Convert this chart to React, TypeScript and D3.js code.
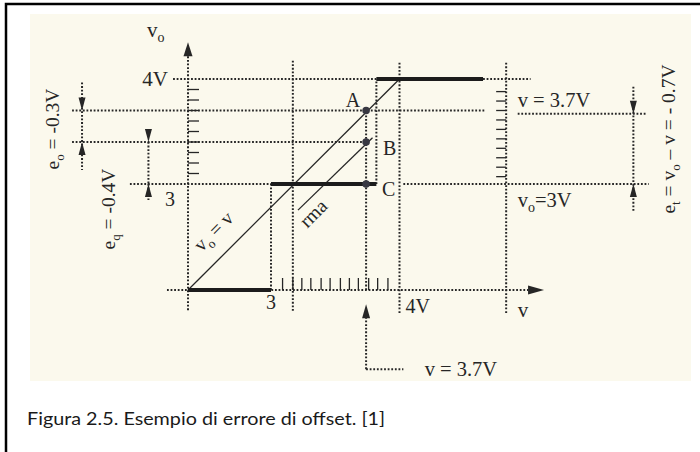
import React from 'react';
import * as d3 from 'd3';

// ---------- data (diagram values, in volts) ----------
const xBreaks = [0, 3, 4];            // v axis (broken scale)
const yBreaks = [0, 3, 4];            // v_o axis (broken scale)
const stepStarts = [0, 3, 3.82];
const stepEnds = [3, 3.82, 4.65];
const stepLevels = [0, 3, 4];
const idealV = [0, 4];
const idealVo = [0, 4];
const rmaV = [3.21, 3.79];
const rmaVo = [2.26, 3.44];
const probeV = 3.74;
const pointNames = ['A', 'B', 'C'];
const pointLevels = [3.7, 3.4, 3];
const yAxisTicks = [3.1, 3.2, 3.3, 3.4, 3.5, 3.6, 3.7, 3.8, 3.9];
const xAxisTicks = [3.09, 3.17, 3.24, 3.31, 3.39, 3.46, 3.54, 3.61, 3.68, 3.76, 3.83, 3.91];
const rightTicks = [3.07, 3.16, 3.25, 3.34, 3.43, 3.52, 3.61, 3.7, 3.79, 3.88];
const eoLevels = [3.7, 3.4];   // e_o = -0.3V
const eqLevels = [3.4, 3];     // e_q = -0.4V
const etLevels = [3.67, 3];    // e_t = -0.7V
const caption = 'Figura 2.5. Esempio di errore di offset. [1]';

// guide lines (dotted): horizontal at a level, from v1 to v2
const hAt = [4, 4, 3.7, 3.67, 3.4, 3, 3, 0, -2.24];
const hFrom = [-0.54, 4.65, -4.19, 4.92, -4.19, -2.1, 4.03, -0.76, 3.74];
const hTo = [3.82, 5.02, 4.67, 5.92, 3.74, 3, 5.94, 5.0, 4.03];
// vertical guides: at v, from level1 to level2
const vAt = [0, 3.17, 3, 3.74, 3.74, 3.82, 4, 4.83];
const vFrom = [-0.57, -0.59, 0, 0, -2.24, 3, -0.65, -0.65];
const vTo = [4.24, 4.18, 3, 3.7, -0.79, 4, 4.16, 4.16];

const INK = '#262626';
const SERIF = '"Liberation Serif", "DejaVu Serif", serif';

const x = d3.scaleLinear().domain(xBreaks).range([188, 271, 399.5]);
const y = d3.scaleLinear().domain(yBreaks).range([290, 184, 79]);

function Dot({ x1, y1, x2, y2 }: { x1: number; y1: number; x2: number; y2: number }) {
  return (
    <line x1={x1} y1={y1} x2={x2} y2={y2} stroke={INK} strokeWidth={2} strokeDasharray="1.8 1.8" />
  );
}

function Head({ tx, ty, dir, len = 13, hw = 3.5 }: { tx: number; ty: number; dir: 'up' | 'down' | 'right'; len?: number; hw?: number }) {
  let pts = '';
  if (dir === 'up') pts = `${tx},${ty} ${tx - hw},${ty + len} ${tx + hw},${ty + len}`;
  if (dir === 'down') pts = `${tx},${ty} ${tx - hw},${ty - len} ${tx + hw},${ty - len}`;
  if (dir === 'right') pts = `${tx},${ty} ${tx - len},${ty - hw} ${tx - len},${ty + hw}`;
  return <polygon points={pts} fill={INK} />;
}

function DimArrow({ v, levels, ext }: { v: number; levels: number[]; ext: number }) {
  const px = x(v);
  const top = y(levels[0]);
  const bot = y(levels[1]);
  return (
    <g>
      <Dot x1={px} y1={top - ext} x2={px} y2={bot + ext} />
      <Head tx={px} ty={top} dir="down" />
      <Head tx={px} ty={bot} dir="up" />
    </g>
  );
}

export default function App() {
  const line = d3.line<[number, number]>().x(d => x(d[0])).y(d => y(d[1]));
  const ideal: [number, number][] = idealV.map((v, i) => [v, idealVo[i]]);
  const rma: [number, number][] = rmaV.map((v, i) => [v, rmaVo[i]]);
  const txt = { fontFamily: SERIF, fill: INK } as const;

  return (
    <div style={{ position: 'absolute', left: 0, top: 0 }}>
      <svg width={700} height={452} style={{ display: 'block', background: '#fff' }}>
        <rect x={6} y={4} width={740} height={500} fill="#fff" stroke="#000" strokeWidth={2.5} />
        <rect x={30} y={14} width={661} height={367} fill="#fbf9ed" />

        {/* dotted guides */}
        {hAt.map((lv, i) => (
          <Dot key={'h' + i} x1={x(hFrom[i])} y1={y(lv)} x2={x(hTo[i])} y2={y(lv)} />
        ))}
        {vAt.map((v, i) => (
          <Dot key={'v' + i} x1={x(v)} y1={y(vFrom[i])} x2={x(v)} y2={y(vTo[i])} />
        ))}

        {/* axis arrows */}
        <Head tx={x(0)} ty={y(4.35)} dir="up" len={14} hw={4.5} />
        <Head tx={x(5.125)} ty={y(0)} dir="right" len={16} hw={4.5} />
        <Head tx={x(probeV)} ty={y(-0.4)} dir="up" len={14} hw={4} />

        {/* ticks */}
        {yAxisTicks.map((t, i) => (
          <line key={'yt' + i} x1={x(0)} x2={x(0) + 11} y1={y(t)} y2={y(t)} stroke={INK} strokeWidth={1.3} />
        ))}
        {rightTicks.map((t, i) => (
          <line key={'rt' + i} x1={x(4.83) - 10} x2={x(4.83)} y1={y(t)} y2={y(t)} stroke={INK} strokeWidth={1.3} />
        ))}
        {xAxisTicks.map((t, i) => (
          <line key={'xt' + i} x1={x(t)} x2={x(t)} y1={y(0) - 12} y2={y(0)} stroke={INK} strokeWidth={1.3} />
        ))}

        {/* diagonal lines */}
        <path d={line(ideal) || ''} stroke={INK} strokeWidth={1.3} fill="none" />
        <path d={line(rma) || ''} stroke={INK} strokeWidth={1.3} fill="none" />

        {/* quantizer staircase */}
        {stepLevels.map((lv, i) => (
          <line key={'s' + i} x1={x(stepStarts[i])} x2={x(stepEnds[i])} y1={y(lv)} y2={y(lv)} stroke="#1c1c1c" strokeWidth={3.8} />
        ))}

        {/* points A, B, C */}
        {pointLevels.map((lv, i) => (
          <circle key={'p' + i} cx={x(probeV)} cy={y(lv)} r={3.8} fill="#383842" />
        ))}
        <text {...txt} x={x(probeV) - 13} y={y(pointLevels[0]) - 4} fontSize={20} textAnchor="middle">{pointNames[0]}</text>
        <text {...txt} x={x(probeV) + 17} y={y(pointLevels[1]) + 13} fontSize={20}>{pointNames[1]}</text>
        <text {...txt} x={x(probeV) + 16} y={y(pointLevels[2]) + 12} fontSize={20}>{pointNames[2]}</text>

        {/* dimension arrows */}
        <DimArrow v={-3.83} levels={eoLevels} ext={28} />
        <DimArrow v={-1.43} levels={eqLevels} ext={0} />
        <Dot x1={x(-1.43)} y1={y(3)} x2={x(-1.43)} y2={y(3) + 16} />
        <DimArrow v={5.82} levels={etLevels} ext={27} />

        {/* axis labels */}
        <text {...txt} x={147} y={37} fontSize={21}>v<tspan fontSize={14} dy={5}>o</tspan></text>
        <text {...txt} x={x(0) - 20} y={y(4) + 7} fontSize={21} textAnchor="end">4V</text>
        <text {...txt} x={x(0) - 18} y={y(3) + 22} fontSize={20} textAnchor="middle">3</text>
        <text {...txt} x={x(3)} y={y(0) + 19} fontSize={20} textAnchor="middle">3</text>
        <text {...txt} x={x(4) + 6} y={y(0) + 23} fontSize={20}>4V</text>
        <text {...txt} x={x(4.92)} y={y(0) + 27} fontSize={21}>v</text>

        {/* right annotations */}
        <text {...txt} x={x(4.92)} y={y(3.67) - 7} fontSize={20.5}>v = 3.7V</text>
        <text {...txt} x={x(4.92)} y={y(3) + 23} fontSize={20.5}>v<tspan fontSize={14} dy={5}>o</tspan><tspan dy={-5}>=3V</tspan></text>
        <text {...txt} x={x(4.04) + 20} y={y(-2.24) + 7} fontSize={20.5}>v = 3.7V</text>

        {/* rotated labels */}
        <text {...txt} fontSize={19.5} textAnchor="middle" transform="translate(59,129) rotate(-90)">
          e<tspan fontSize={13} dy={5}>o</tspan><tspan dy={-5}> = -0.3V</tspan>
        </text>
        <text {...txt} fontSize={19.5} textAnchor="middle" transform="translate(115,209) rotate(-90)">
          e<tspan fontSize={13} dy={5}>q</tspan><tspan dy={-5}> = -0.4V</tspan>
        </text>
        <text {...txt} fontSize={19.5} textAnchor="middle" transform="translate(675,139) rotate(-90)">
          e<tspan fontSize={13} dy={5}>t</tspan><tspan dy={-5}> = v</tspan><tspan fontSize={13} dy={5}>o</tspan><tspan dy={-5}> – v = - 0.7V</tspan>
        </text>
        <text {...txt} fontSize={19.5} textAnchor="middle" transform="translate(218,236) rotate(-45)">
          v<tspan fontSize={13} dy={5}>o</tspan><tspan dy={-5}> = v</tspan>
        </text>
        <text {...txt} fontSize={19.5} textAnchor="middle" transform="translate(318,218) rotate(-45)">rma</text>

        {/* caption */}
        <text x={27} y={425} fontFamily="Lato, 'Open Sans', sans-serif" fontSize={17.5} fill="#1a1a1a" textLength={358} lengthAdjust="spacingAndGlyphs">{caption}</text>
      </svg>
    </div>
  );
}
